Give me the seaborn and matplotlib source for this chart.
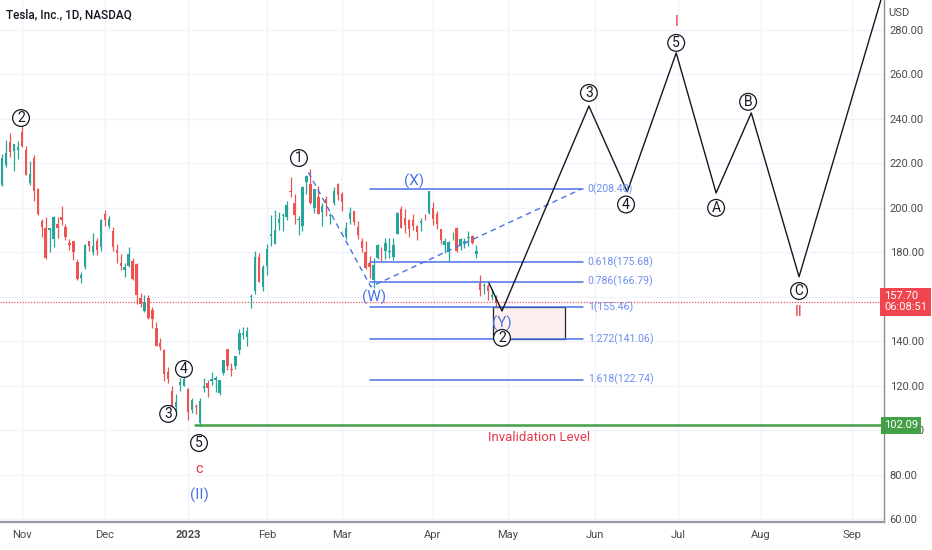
import numpy as np
import pandas as pd
import matplotlib
matplotlib.use("Agg")
import matplotlib.pyplot as plt
import seaborn as sns
from matplotlib.patches import Rectangle

# ---------------- data ----------------
dates = ["2022-10-24","2022-10-25","2022-10-26","2022-10-27","2022-10-28","2022-10-31",
         "2022-11-01","2022-11-02","2022-11-03","2022-11-04","2022-11-07","2022-11-08","2022-11-09",
         "2022-11-10","2022-11-11","2022-11-14","2022-11-15","2022-11-16","2022-11-17","2022-11-18",
         "2022-11-21","2022-11-22","2022-11-23","2022-11-25","2022-11-28","2022-11-29","2022-11-30",
         "2022-12-01","2022-12-02","2022-12-05","2022-12-06","2022-12-07","2022-12-08","2022-12-09",
         "2022-12-12","2022-12-13","2022-12-14","2022-12-15","2022-12-16","2022-12-19","2022-12-20",
         "2022-12-21","2022-12-22","2022-12-23","2022-12-27","2022-12-28","2022-12-29","2022-12-30",
         "2023-01-03","2023-01-04","2023-01-05","2023-01-06","2023-01-09","2023-01-10","2023-01-11",
         "2023-01-12","2023-01-13","2023-01-17","2023-01-18","2023-01-19","2023-01-20","2023-01-23",
         "2023-01-24","2023-01-25","2023-01-26","2023-01-27","2023-01-30","2023-01-31",
         "2023-02-01","2023-02-02","2023-02-03","2023-02-06","2023-02-07","2023-02-08","2023-02-09",
         "2023-02-10","2023-02-13","2023-02-14","2023-02-15","2023-02-16","2023-02-17","2023-02-21",
         "2023-02-22","2023-02-23","2023-02-24","2023-02-27","2023-02-28",
         "2023-03-01","2023-03-02","2023-03-03","2023-03-06","2023-03-07","2023-03-08","2023-03-09",
         "2023-03-10","2023-03-13","2023-03-14","2023-03-15","2023-03-16","2023-03-17","2023-03-20",
         "2023-03-21","2023-03-22","2023-03-23","2023-03-24","2023-03-27","2023-03-28","2023-03-29",
         "2023-03-30","2023-03-31",
         "2023-04-03","2023-04-04","2023-04-05","2023-04-06","2023-04-10","2023-04-11","2023-04-12",
         "2023-04-13","2023-04-14","2023-04-17","2023-04-18","2023-04-19","2023-04-20","2023-04-21",
         "2023-04-24","2023-04-25","2023-04-26"]

opens = [205.82,210.10,219.40,229.77,225.40,226.19,
         234.05,226.04,211.36,222.60,208.65,194.02,190.78,
         189.90,186.00,192.77,195.88,191.51,183.96,185.05,
         175.85,168.63,173.57,185.06,179.96,184.99,182.43,
         197.08,191.78,189.44,181.22,175.03,172.20,173.84,
         176.10,174.87,159.25,153.44,159.64,154.00,146.05,
         139.34,136.00,126.37,117.50,110.35,120.39,119.95,
         118.47,109.11,110.51,103.00,118.96,121.07,122.09,
         122.56,116.55,125.70,136.56,127.26,128.68,135.87,
         143.00,141.91,159.97,162.43,178.05,164.57,
         173.89,187.33,183.95,193.01,196.43,196.10,207.78,
         202.23,194.42,191.94,211.76,210.78,199.99,204.99,
         197.93,203.91,196.33,202.03,210.59,
         206.21,186.74,194.80,198.54,191.38,185.04,180.25,
         175.13,167.46,177.31,180.80,180.37,180.13,178.08,
         188.28,199.30,195.26,194.42,194.42,192.00,193.13,
         195.58,197.53,
         199.91,197.32,190.52,183.08,179.94,186.69,190.74,
         182.96,183.95,186.32,187.15,179.10,166.17,164.80,
         164.65,159.82,160.29]

highs = [213.50,224.35,230.60,233.81,228.86,229.85,
         237.40,227.87,221.20,223.80,208.90,195.20,195.89,
         191.00,196.52,195.73,200.82,192.57,186.16,185.19,
         176.77,170.92,183.62,185.20,188.50,186.38,194.76,
         198.92,196.25,191.27,183.65,179.38,175.20,182.50,
         177.37,175.05,161.62,160.93,160.99,155.25,148.47,
         141.26,136.63,128.62,119.67,116.27,123.57,124.48,
         118.80,114.59,111.75,114.39,123.52,122.76,125.95,
         124.13,122.63,131.70,136.68,129.99,133.51,145.38,
         146.50,146.41,161.42,180.68,179.77,174.30,
         183.81,196.75,199.00,198.17,197.50,203.00,214.00,
         206.20,196.30,209.82,214.66,217.65,208.44,209.71,
         201.99,205.14,197.67,209.42,211.23,
         207.20,193.75,200.48,198.60,194.20,186.50,185.18,
         178.29,177.35,183.80,182.34,186.22,186.22,186.44,
         198.00,200.66,199.31,194.79,197.39,192.35,195.29,
         197.33,207.79,
         202.69,198.74,190.68,186.39,185.10,189.19,191.58,
         186.50,186.28,189.69,187.69,183.50,169.70,166.00,
         165.65,163.47,160.67]

lows = [198.59,210.00,218.20,222.85,216.35,221.94,
        227.28,214.82,210.14,203.08,196.66,186.75,177.12,
        180.03,182.59,186.34,192.06,185.66,180.90,176.55,
        167.54,166.19,172.50,180.63,179.00,178.75,180.63,
        191.80,191.11,180.55,175.33,172.22,169.06,173.36,
        167.52,156.91,155.31,153.28,150.04,145.82,137.66,
        135.89,122.26,121.02,108.76,108.24,117.50,119.75,
        104.64,107.52,107.16,101.81,117.11,114.92,120.51,
        117.00,115.60,125.02,127.01,124.31,127.35,134.27,
        141.10,138.07,154.76,161.17,166.50,162.78,
        169.93,182.61,183.69,189.92,189.55,194.31,204.77,
        192.89,187.61,189.44,206.11,201.84,197.50,197.22,
        191.78,196.33,192.80,201.26,203.75,
        198.52,186.01,192.88,192.30,186.10,180.00,172.51,
        168.44,163.91,177.14,176.03,176.93,177.33,176.35,
        188.04,190.95,188.65,186.66,189.94,185.43,189.44,
        194.42,197.20,
        192.20,190.32,183.76,179.74,176.11,185.65,180.31,
        180.94,182.01,182.69,183.58,177.65,160.56,161.32,
        158.61,158.75,155.40]

closes = [211.25,222.42,224.64,225.09,228.52,227.54,
          227.82,214.98,215.31,207.47,197.08,191.30,177.59,
          190.72,195.97,190.95,194.42,186.92,183.17,180.19,
          167.87,169.91,183.20,182.86,182.92,180.83,194.70,
          194.70,194.86,182.45,179.82,174.04,173.44,179.05,
          167.82,160.95,156.80,157.67,150.23,149.87,137.80,
          137.57,125.35,123.15,109.10,112.71,121.82,123.18,
          108.10,113.64,110.34,113.06,119.77,118.85,123.22,
          123.56,122.40,131.49,128.78,127.17,133.42,143.75,
          143.89,144.43,160.27,177.90,166.66,173.22,
          181.41,188.27,189.98,194.76,196.81,201.29,207.32,
          196.89,194.64,209.25,214.24,202.04,208.31,197.37,
          200.86,202.07,196.88,207.63,205.71,
          202.77,190.90,197.79,193.81,187.71,182.00,172.92,
          173.44,174.48,183.26,180.45,184.13,180.13,183.25,
          197.58,191.15,192.22,190.41,191.81,189.19,193.88,
          195.28,207.46,
          194.77,192.58,185.52,185.06,184.51,186.79,180.54,
          185.90,185.00,187.04,184.31,180.59,162.99,165.08,
          162.55,160.67,157.70]

first_bar_index = -6                      # 2022-10-24 relative to 2022-11-01
month_ticks = [0, 21, 42, 62, 81, 104, 123, 145, 166, 187, 210]
month_labels = ["Nov", "Dec", "2023", "Feb", "Mar", "Apr", "May", "Jun", "Jul", "Aug", "Sep"]
price_ticks = [60, 80, 100, 120, 140, 160, 180, 200, 220, 240, 260, 280]

# projected Elliott wave path (bar index, price)
proj_x = [118.2, 121.5, 143.5, 153.2, 165.6, 175.7, 184.6, 196.7, 218.5]
proj_y = [166.2, 153.6, 245.8, 207.2, 269.7, 206.7, 242.7, 169.0, 300.0]

# dashed fib guide (bar index, price)
guide_x = [72.5, 88.3, 141.5]
guide_y = [216.0, 164.5, 208.4]

fib_ratios = ["0", "0.618", "0.786", "1", "1.272", "1.618"]
fib_prices = [208.40, 175.68, 166.79, 155.46, 141.06, 122.74]
fib_start, fib_end = 88.0, 142.0

target_box = (119.2, 137.5, 141.06, 155.46)   # x0, x1, y_low, y_high

last_price = 157.70
countdown = "06:08:51"
invalidation = 102.09

# wave labels: (text, x, y, style)
wave_labels = [
    ("2", -0.25, 240.4, "circ"), ("1", 70.1, 222.4, "circ"),
    ("3", 37.0, 107.3, "circ"), ("4", 41.0, 127.5, "circ"),
    ("5", 44.8, 94.2, "circ"), ("c", 44.8, 82.5, "red"),
    ("(II)", 44.8, 70.8, "blue"), ("(X)", 99.2, 212.1, "blue"),
    ("(W)", 89.1, 159.9, "blue"), ("(Y)", 121.5, 148.2, "blue"),
    ("2", 121.5, 141.5, "circ"), ("3", 143.5, 251.7, "circ"),
    ("4", 152.9, 201.5, "circ"), ("5", 165.6, 274.2, "circ"),
    ("I", 165.6, 283.6, "red"), ("A", 175.7, 200.0, "circ"),
    ("B", 183.8, 247.7, "circ"), ("C", 196.7, 162.6, "circ"),
    ("II", 196.7, 153.2, "red"),
]

# ---------------- figure ----------------
sns.set_theme(style="white")
plt.rcParams["font.family"] = ["Roboto", "DejaVu Sans"]

W, H = 932, 550
fig = plt.figure(figsize=(W / 100, H / 100), dpi=100)
ax = fig.add_axes([0, 1 - 522 / H, 884 / W, 522 / H])

GREEN = "#26a69a"
RED = "#ef5350"
BLUE = "#4a72e8"
BLUE_TXT = "#6f8ff0"
REDTXT = "#e8394d"
GRID = "#f0f3fa"

df = pd.DataFrame({"date": dates, "open": opens, "high": highs, "low": lows, "close": closes})
df["x"] = np.arange(len(df)) + first_bar_index
df["up"] = df["close"] >= df["open"]
df["color"] = np.where(df["up"], GREEN, RED)

# grid
for t in month_ticks:
    ax.axvline(t, color=GRID, lw=1, zorder=0)
for p in price_ticks:
    ax.axhline(p, color=GRID, lw=1, zorder=0)

# candles
ax.vlines(df["x"], df["low"], df["high"], colors=df["color"], lw=0.9, zorder=3)
body_h = (df["close"] - df["open"]).abs().clip(lower=0.35)
ax.bar(df["x"], body_h, bottom=df[["open", "close"]].min(axis=1), width=0.62,
       color=df["color"], linewidth=0, zorder=3)

# last price dotted line
ax.axhline(last_price, color="#f23645", lw=0.8, ls=(0, (1, 1.5)), zorder=2)

# fib levels
for r, p in zip(fib_ratios, fib_prices):
    ax.plot([fib_start, fib_end], [p, p], color=BLUE, lw=1.1, zorder=4)
    ax.text(fib_end + 1.2, p, f"{r}({p:.2f})", color=BLUE_TXT, fontsize=7.6,
            ha="left", va="center", zorder=8)

# dashed guide
ax.plot(guide_x, guide_y, color=BLUE, lw=1.0, ls=(0, (4, 3)), zorder=4)

# target box
x0, x1, yl, yh = target_box
ax.add_patch(Rectangle((x0, yl), x1 - x0, yh - yl, fc="#fdeff0", ec="#222222",
                       lw=0.9, zorder=2.5))

# invalidation level
ax.plot([43.8, 230], [invalidation, invalidation], color="#43a047", lw=1.8, zorder=4)
ax.text(131, 96.8, "Invalidation Level", color=REDTXT, fontsize=9.5,
        ha="center", va="center", zorder=5)

# projected path
proj = pd.DataFrame({"x": proj_x, "y": proj_y})
sns.lineplot(data=proj, x="x", y="y", ax=ax, color="#131722", lw=1.0,
             sort=False, estimator=None, zorder=5)

# wave labels
for s, x, y, st in wave_labels:
    if st == "circ":
        ax.text(x, y, s, ha="center", va="center", fontsize=10, color="#131722",
                bbox=dict(boxstyle="circle,pad=0.1", fc="white", ec="#131722", lw=0.9),
                zorder=7)
    elif st == "red":
        ax.text(x, y, s, ha="center", va="center", fontsize=10.5, color=REDTXT, zorder=7)
    else:
        ax.text(x, y, s, ha="center", va="center", fontsize=11, color=BLUE, zorder=7)

# axes styling
ax.set_xlim(-5.57, 218.2)
ax.set_ylim(58.67, 293.5)
ax.set_xlabel("")
ax.set_ylabel("")
ax.set_xticks(month_ticks)
ax.set_xticklabels(month_labels)
for lbl in ax.get_xticklabels():
    if lbl.get_text() == "2023":
        lbl.set_fontweight("bold")
ax.yaxis.tick_right()
ax.set_yticks(price_ticks)
ax.set_yticklabels([f"{p:.2f}" for p in price_ticks])
ax.tick_params(axis="both", length=0, labelsize=8, colors="#4a4a4a")
ax.tick_params(axis="x", pad=6)
ax.tick_params(axis="y", pad=4)
for side in ["top", "left"]:
    ax.spines[side].set_visible(False)
ax.spines["right"].set_color("#8a8d95")
ax.spines["right"].set_linewidth(1.0)
ax.spines["bottom"].set_color("#9598a1")
ax.spines["bottom"].set_linewidth(1.6)

# price tags on the right axis
trans = ax.get_yaxis_transform()
ax.text(1.0, last_price, f"{last_price:.2f}\n{countdown}", transform=trans,
        ha="left", va="center", fontsize=8, color="white", linespacing=1.1,
        bbox=dict(boxstyle="square,pad=0.35", fc="#f0454f", ec="none"),
        clip_on=False, zorder=10)
ax.text(1.0, invalidation, f"{invalidation:.2f}", transform=trans,
        ha="left", va="center", fontsize=8, color="white",
        bbox=dict(boxstyle="square,pad=0.3", fc="#43a047", ec="none"),
        clip_on=False, zorder=10)

fig.text(888 / W, 1 - 13 / H, "USD", fontsize=8, color="#4a4a4a", ha="left", va="center")
fig.text(6 / W, 1 - 15 / H, "Tesla, Inc., 1D, NASDAQ", fontsize=8.5, color="#131722",
         ha="left", va="center", fontweight="medium")

fig.savefig("out.png", dpi=100)
